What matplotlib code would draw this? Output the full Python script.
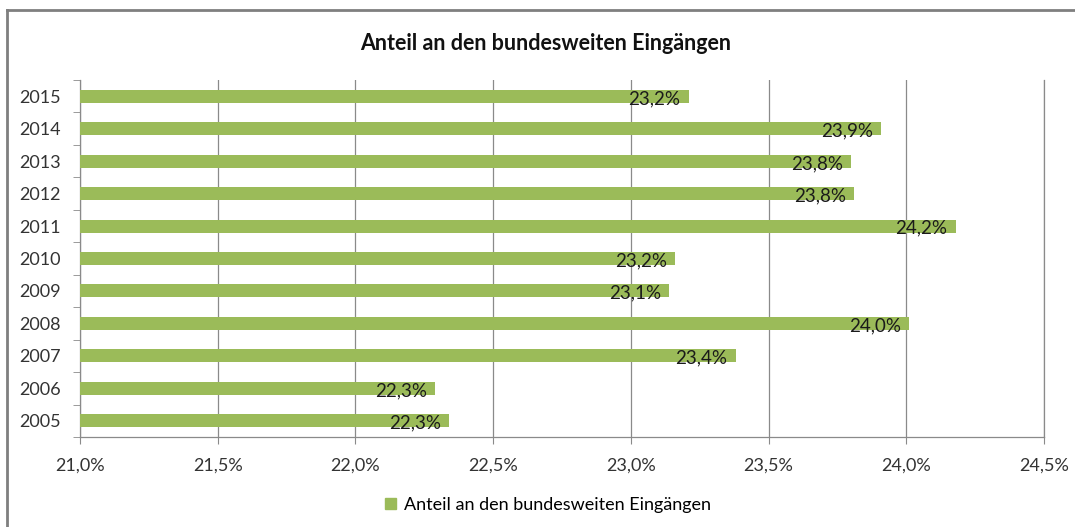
import matplotlib
matplotlib.use('Agg')
import matplotlib.pyplot as plt
from matplotlib.lines import Line2D
from matplotlib.patches import Patch

plt.rcParams['font.family'] = ['Lato', 'DejaVu Sans']

# data
years = ['2005', '2006', '2007', '2008', '2009', '2010', '2011', '2012', '2013', '2014', '2015']
share = [22.34, 22.29, 23.38, 24.01, 23.14, 23.16, 24.18, 23.81, 23.80, 23.91, 23.21]
xticks = [21.0, 21.5, 22.0, 22.5, 23.0, 23.5, 24.0, 24.5]
series_name = 'Anteil an den bundesweiten Eingängen'

green = '#9BBB59'
grey = '#8a8a8a'

fig = plt.figure(figsize=(10.75, 5.27), dpi=100)
ax = fig.add_axes([80 / 1075, 1 - 437 / 527, 964 / 1075, 357 / 527])

pos = range(len(years))
ax.barh(pos, [v - 21.0 for v in share], left=21.0, height=0.4, color=green, zorder=3)

for i, v in enumerate(share):
    lbl = ('%.1f%%' % v).replace('.', ',')
    ax.text(v - 0.03, i - 0.07, lbl, ha='right', va='center', fontsize=13.5, color='#1a1a1a', zorder=4)

ax.set_xlim(21.0, 24.5)
ax.set_ylim(-0.5, len(years) - 0.5)
ax.set_xticks(xticks)
ax.set_xticklabels([('%.1f%%' % t).replace('.', ',') for t in xticks], fontsize=13, color='#333333')
ax.set_yticks(list(pos))
ax.set_yticklabels(years, fontsize=13, color='#333333')
ax.set_yticks([p + 0.5 for p in range(-1, len(years))], minor=True)
ax.tick_params(axis='y', which='major', length=0, pad=14)
ax.tick_params(axis='y', which='minor', length=5, color=grey, direction='out')
ax.tick_params(axis='x', length=5, color=grey, direction='out', pad=10)
ax.grid(axis='x', color=grey, linewidth=0.9, zorder=0)
ax.spines['top'].set_visible(False)
for s in ['left', 'bottom', 'right']:
    ax.spines[s].set_color(grey)
    ax.spines[s].set_linewidth(0.9)

fig.text(546 / 1075, 1 - 43 / 527, series_name, ha='center', va='center',
         fontsize=15.5, fontweight='bold', color='#111111')

fig.legend(handles=[Patch(color=green, label=series_name)], loc='center',
           bbox_to_anchor=(548 / 1075, 1 - 505 / 527), frameon=False, fontsize=13,
           handlelength=0.6, handleheight=0.6, handletextpad=0.4)

# outer chart frame (top and left edges visible)
fig.add_artist(Line2D([7 / 1075, 1], [1 - 10 / 527] * 2, color='#7f7f7f', linewidth=2, transform=fig.transFigure))
fig.add_artist(Line2D([7 / 1075] * 2, [0, 1 - 10 / 527], color='#7f7f7f', linewidth=2, transform=fig.transFigure))

fig.savefig('out.png', dpi=100)
